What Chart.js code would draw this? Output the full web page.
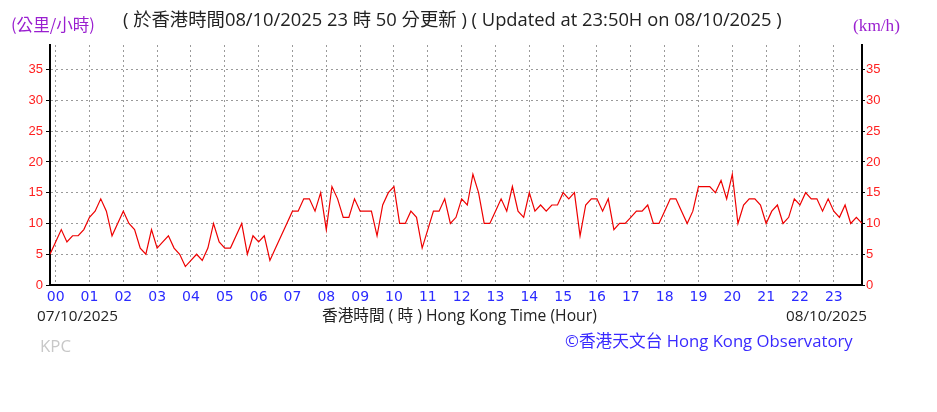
<!DOCTYPE html>
<html>
<head>
<meta charset="utf-8">
<script src="https://cdn.jsdelivr.net/npm/chart.js@4.4.1/dist/chart.umd.min.js"></script>
<style>
  html, body { margin: 0; padding: 0; background: #fff; }
</style>
</head>
<body>
<canvas id="windChart" width="937" height="412"></canvas>
<script>
// 10-minute wind speed readings (km/h), first one is 23:50 of the day before
let startMinute = -10
let stepMinutes = 10
let speeds = [
    5,
    7, 9, 7, 8, 8, 9,        // 00
    11, 12, 14, 12, 8, 10,   // 01
    12, 10, 9, 6, 5, 9,      // 02
    6, 7, 8, 6, 5, 3,        // 03
    4, 5, 4, 6, 10, 7,       // 04
    6, 6, 8, 10, 5, 8,       // 05
    7, 8, 4, 6, 8, 10,       // 06
    12, 12, 14, 14, 12, 15,  // 07
    9, 16, 14, 11, 11, 14,   // 08
    12, 12, 12, 8, 13, 15,   // 09
    16, 10, 10, 12, 11, 6,   // 10
    9, 12, 12, 14, 10, 11,   // 11
    14, 13, 18, 15, 10, 10,  // 12
    12, 14, 12, 16, 12, 11,  // 13
    15, 12, 13, 12, 13, 13,  // 14
    15, 14, 15, 8, 13, 14,   // 15
    14, 12, 14, 9, 10, 10,   // 16
    11, 12, 12, 13, 10, 10,  // 17
    12, 14, 14, 12, 10, 12,  // 18
    16, 16, 16, 15, 17, 14,  // 19
    18, 10, 13, 14, 14, 13,  // 20
    10, 12, 13, 10, 11, 14,  // 21
    13, 15, 14, 14, 12, 14,  // 22
    12, 11, 13, 10, 11, 10   // 23
]
let hourLabels = ["00", "01", "02", "03", "04", "05", "06", "07", "08", "09", "10", "11",
    "12", "13", "14", "15", "16", "17", "18", "19", "20", "21", "22", "23"]
let speedTicks = [0, 5, 10, 15, 20, 25, 30, 35]

let points = speeds.map((v, i) => ({ x: startMinute + i * stepMinutes, y: v }))

// puts a text so that it spans the given width
function fitText(ctx, text, x, y, width, family, color) {
    ctx.font = "20px " + family
    let size = 20 * width / ctx.measureText(text).width
    ctx.font = size.toFixed(2) + "px " + family
    ctx.fillStyle = color
    ctx.textAlign = "left"
    ctx.textBaseline = "middle"
    ctx.fillText(text, x, y)
}

const cjk = '"Open Sans", "Noto Sans CJK TC", sans-serif'

const labelsPlugin = {
    id: "labels",
    afterDraw(chart) {
        let ctx = chart.ctx
        ctx.save()
        fitText(ctx, "(公里/小時)", 11, 25, 84, '"Noto Sans CJK TC"', "#9a1fd0")
        fitText(ctx, "( 於香港時間08/10/2025 23 時 50 分更新 ) ( Updated at 23:50H on 08/10/2025 )", 123, 21, 659, cjk, "#222")
        fitText(ctx, "(km/h)", 853, 26, 47, '"Liberation Serif"', "#9a1fd0")
        fitText(ctx, "07/10/2025", 37, 317, 81, cjk, "#222")
        fitText(ctx, "香港時間 ( 時 ) Hong Kong Time (Hour)", 322, 317, 275, cjk, "#222")
        fitText(ctx, "08/10/2025", 786, 317, 81, cjk, "#222")
        fitText(ctx, "KPC", 40, 347, 31, cjk, "#c8c8c8")
        fitText(ctx, "©香港天文台 Hong Kong Observatory", 565, 342, 288, cjk, "#3a2aff")
        ctx.restore()
    }
}

new Chart(document.getElementById("windChart"), {
    type: "line",
    data: {
        datasets: [{
            data: points,
            borderColor: "#ee0000",
            borderWidth: 1.2,
            pointRadius: 0,
            tension: 0,
            fill: false
        }]
    },
    options: {
        responsive: false,
        animation: false,
        layout: { padding: { top: 45, left: 0, right: 0, bottom: 0 } },
        plugins: { legend: { display: false }, tooltip: { enabled: false } },
        scales: {
            x: {
                type: "linear",
                min: -10,
                max: 1430,
                afterBuildTicks: s => { s.ticks = hourLabels.map((h, i) => ({ value: i * 60 })) },
                afterFit: s => { s.height = 127 },
                ticks: {
                    autoSkip: false,
                    maxRotation: 0,
                    padding: 4,
                    color: "#2b2bff",
                    font: { family: "DejaVu Sans", size: 14 },
                    callback: (v, i) => hourLabels[i]
                },
                grid: { color: "#9a9a9a", drawTicks: false },
                border: { color: "#000", width: 2, dash: [2, 3] }
            },
            y: {
                position: "left",
                min: 0,
                max: 39,
                afterBuildTicks: s => { s.ticks = speedTicks.map(v => ({ value: v })) },
                afterFit: s => { s.width = 50 },
                ticks: { color: "#ff2020", padding: 3, font: { family: "Liberation Sans", size: 13 } },
                grid: { color: "#9a9a9a", tickLength: 4, tickColor: "#000" },
                border: { color: "#000", width: 2, dash: [2, 3] }
            },
            y2: {
                position: "right",
                min: 0,
                max: 39,
                afterBuildTicks: s => { s.ticks = speedTicks.map(v => ({ value: v })) },
                afterFit: s => { s.width = 75 },
                ticks: { color: "#ff2020", padding: 1, font: { family: "Liberation Sans", size: 13 } },
                grid: { drawOnChartArea: false, tickLength: 3, tickColor: "#000" },
                border: { color: "#000", width: 2 }
            }
        }
    },
    plugins: [labelsPlugin]
})
</script>
</body>
</html>
